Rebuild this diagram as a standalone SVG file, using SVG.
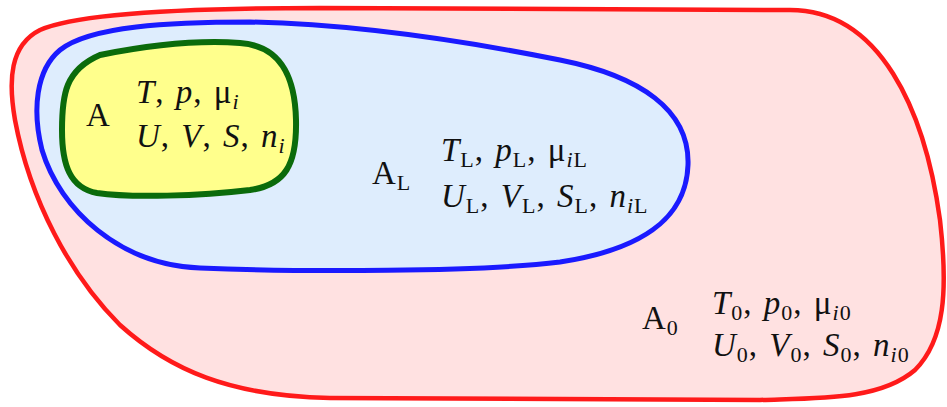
<svg xmlns="http://www.w3.org/2000/svg" width="947" height="407" viewBox="0 0 947 407">
<style>
text{font-family:"Liberation Serif","Times New Roman",serif;font-size:33px;fill:#111;letter-spacing:1px;word-spacing:2px;}
.it{font-style:italic;}
.sb{font-size:22px;}
.red{fill:#ffe1e1;stroke:#ff1a1a;stroke-width:4.5;}
.blue{fill:#deedfd;stroke:#1a1aff;stroke-width:5;}
.green{fill:#ffff8c;stroke:#0b6b0b;stroke-width:6;}
</style>
<rect width="947" height="407" fill="#ffffff"/>
<g id="A0">
<path class="red" d="M320,8 L790,10 C880,10 925,110 940,220 C948,290 945,340 915,370 C880,400 820,398 760,400 L330,398 C230,396 170,370 120,325 C70,275 30,200 15,120 C8,80 10,45 40,30 C80,12 200,8 320,8 Z"/>
<text x="642" y="329">A<tspan class="sb" dy="6">0</tspan></text>
<text x="712" y="314"><tspan class="it">T</tspan><tspan class="sb" dy="6">0</tspan><tspan dy="-6">, </tspan><tspan class="it">p</tspan><tspan class="sb" dy="6">0</tspan><tspan dy="-6">, μ</tspan><tspan class="sb it" dy="6">i</tspan><tspan class="sb">0</tspan></text>
<text x="712" y="356"><tspan class="it">U</tspan><tspan class="sb" dy="6">0</tspan><tspan dy="-6">, </tspan><tspan class="it">V</tspan><tspan class="sb" dy="6">0</tspan><tspan dy="-6">, </tspan><tspan class="it">S</tspan><tspan class="sb" dy="6">0</tspan><tspan dy="-6">, </tspan><tspan class="it">n</tspan><tspan class="sb it" dy="6">i</tspan><tspan class="sb">0</tspan></text>
</g>
<g id="AL">
<path class="blue" d="M250,22 C350,24 450,38 560,60 C640,76 690,110 688,165 C686,220 640,250 560,262 C480,272 300,272 200,268 C120,265 60,210 42,150 C32,110 36,70 60,50 C90,26 170,22 250,22 Z"/>
<text x="372" y="184">A<tspan class="sb" dy="6">L</tspan></text>
<text x="441" y="161"><tspan class="it">T</tspan><tspan class="sb" dy="6">L</tspan><tspan dy="-6">, </tspan><tspan class="it">p</tspan><tspan class="sb" dy="6">L</tspan><tspan dy="-6">, μ</tspan><tspan class="sb it" dy="6">i</tspan><tspan class="sb">L</tspan></text>
<text x="441" y="207"><tspan class="it">U</tspan><tspan class="sb" dy="6">L</tspan><tspan dy="-6">, </tspan><tspan class="it">V</tspan><tspan class="sb" dy="6">L</tspan><tspan dy="-6">, </tspan><tspan class="it">S</tspan><tspan class="sb" dy="6">L</tspan><tspan dy="-6">, </tspan><tspan class="it">n</tspan><tspan class="sb it" dy="6">i</tspan><tspan class="sb">L</tspan></text>
</g>
<g id="A">
<path class="green" d="M100,55 C150,45 200,40 240,43 C280,46 295,75 296,120 C297,165 285,185 250,190 C200,196 130,198 97,193 C70,188 62,165 62,130 C62,95 65,70 100,55 Z"/>
<text x="86" y="126">A</text>
<text x="136" y="103"><tspan class="it">T</tspan>, <tspan class="it">p</tspan>, μ<tspan class="sb it" dy="6">i</tspan></text>
<text x="136" y="147"><tspan class="it">U</tspan>, <tspan class="it">V</tspan>, <tspan class="it">S</tspan>, <tspan class="it">n</tspan><tspan class="sb it" dy="6">i</tspan></text>
</g>
<g id="connectors"></g>
</svg>
